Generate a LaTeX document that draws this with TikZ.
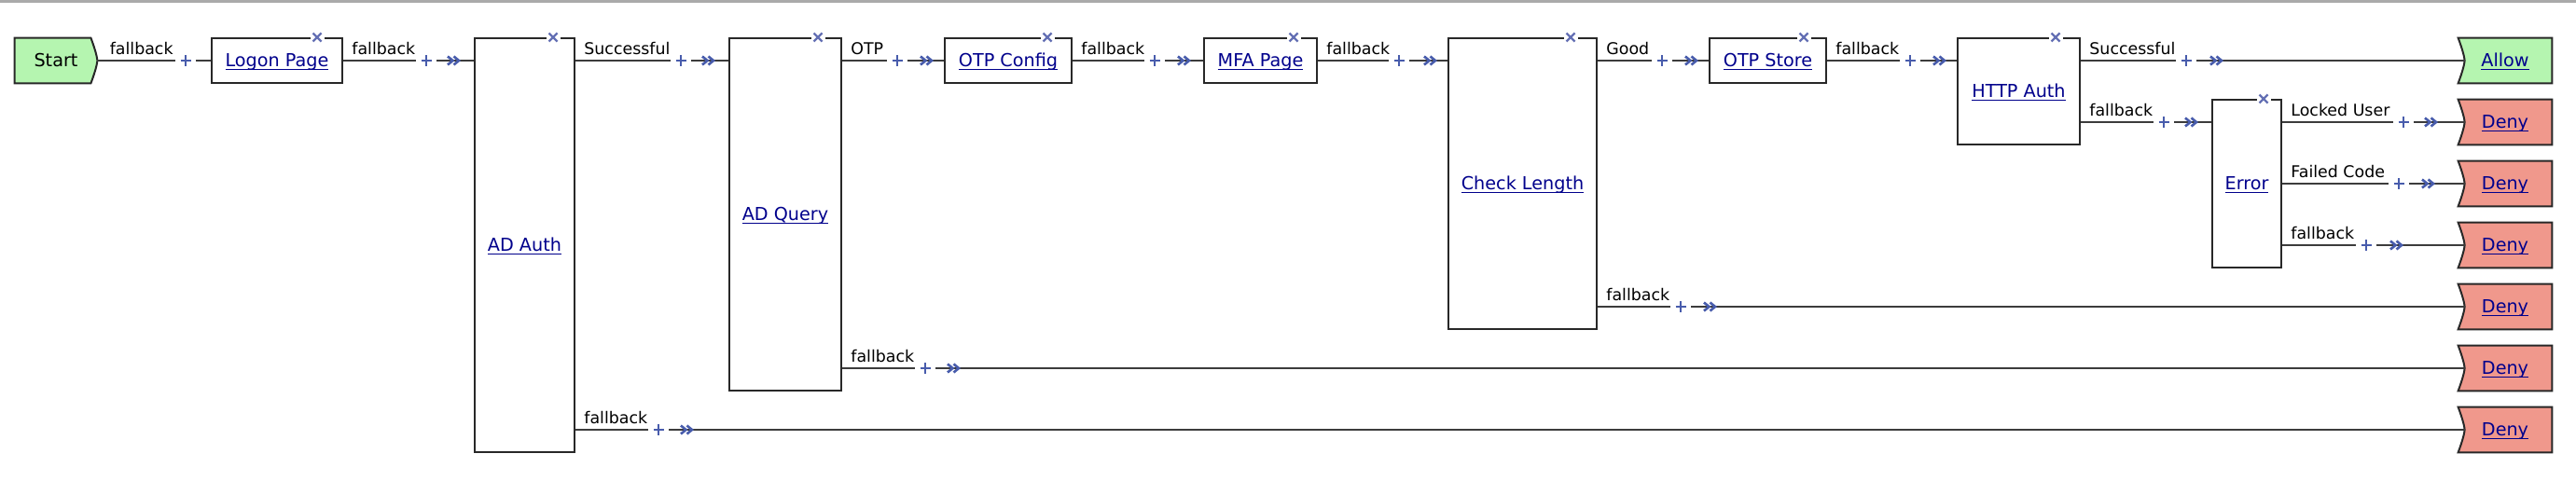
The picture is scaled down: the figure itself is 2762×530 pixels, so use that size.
\documentclass[tikz,border=0pt]{standalone}
\usepackage{fontspec}
\setmainfont{DejaVu Sans}
\usetikzlibrary{calc,backgrounds}
\definecolor{startg}{RGB}{181,245,176}
\definecolor{denyr}{RGB}{240,152,140}
\definecolor{linkc}{RGB}{0,0,140}
\definecolor{markc}{RGB}{72,92,172}
\definecolor{xmarkc}{RGB}{100,112,180}
\definecolor{linec}{RGB}{60,60,60}
\definecolor{boxc}{RGB}{40,40,40}
\definecolor{topbar}{RGB}{170,170,170}
\newcommand\nodefont{\fontsize{9.6}{11}\selectfont}
\newcommand\lblfont{\fontsize{8.7}{10}\selectfont}
\newcommand\lnk[1]{\setbox0\hbox{#1}\rlap{\rule[-1.5pt]{\wd0}{0.7pt}}\box0}
\tikzset{
  box/.style={rectangle, draw=boxc, line width=1pt, fill=white, inner sep=0pt,
    font=\nodefont, text=linkc, text height=6.9pt, text depth=0pt},
  term/.style={rectangle, inner sep=0pt, minimum height=24pt,
    font=\nodefont, text height=6.9pt, text depth=0pt},
  termshape/.style={draw=boxc, line width=1pt},
  conn/.style={draw=linec, line width=1.1pt},
  lbl/.style={anchor=base west, inner sep=0pt, font=\lblfont, text=black},
  mk/.style={draw=markc, line width=1.3pt},
  xm/.style={draw=xmarkc, line width=1.2pt},
  plusmk/.pic={\fill[white] (-11,-2.5) rectangle (11,2.5);
    \draw[mk] (-5.5,0) -- (5.5,0) (0,-6) -- (0,6);},
  chev/.pic={\draw[mk, line join=miter] (0,-4.5) -- (5.5,0) -- (0,4.5) (6.5,-4.5) -- (12,0) -- (6.5,4.5);},
  closex/.pic={\fill[white] (-7.5,-2.5) rectangle (7.5,2.5);
    \draw[xm] (-4.5,-4.5) -- (4.5,4.5) (-4.5,4.5) -- (4.5,-4.5);},
}
\newcommand\flowlink[6]{%
  \draw[conn] (#1) -- (#2);
  \node[lbl] at ($(#1)+(9,-7)$) {#3};
  \pic at (#4,#6) {plusmk};
  \pic at (#5,#6) {chev};
}
\newcommand\startshapeL[1]{%
  \filldraw[termshape, fill=startg] (#1.north west) -- ($(#1.north east)+(-7,0)$)
    .. controls ($(#1.north east)+(-4,8)$) and ($(#1.east)+(-0.5,-6)$) .. (#1.east)
    .. controls ($(#1.east)+(-0.5,6)$) and ($(#1.south east)+(-4,-8)$) .. ($(#1.south east)+(-7,0)$)
    -- (#1.south west) -- cycle;}
\newcommand\termshapeR[2]{%
  \filldraw[termshape, fill=#2] (#1.north west) -- (#1.north east) -- (#1.south east) -- (#1.south west)
    .. controls ($(#1.south west)+(3,-8)$) and ($(#1.west)+(6.5,6)$) .. ($(#1.west)+(7,0)$)
    .. controls ($(#1.west)+(6.5,-6)$) and ($(#1.north west)+(3,8)$) .. (#1.north west) -- cycle;}
\begin{document}
\begin{tikzpicture}[x=0.5pt, y=-0.5pt]
\useasboundingbox (0,0) rectangle (2762,530);
\begin{scope}[on background layer]
  \fill[white] (0,0) rectangle (2762,530);
\end{scope}
\fill[topbar] (0,0) rectangle (2762,2.5);

% rows
\coordinate (r1) at (0,65);
\coordinate (r2) at (0,131);
\coordinate (r3) at (0,197);
\coordinate (r4) at (0,263);
\coordinate (r5) at (0,329);
\coordinate (r6) at (0,395);
\coordinate (r7) at (0,461);

% terminal nodes
\node[term, minimum width=44pt] (start) at (60,65) {Start};
\node[term, minimum width=50pt, text=linkc] (allow) at (2686,65) {\lnk{Allow}};
\node[term, minimum width=50pt, text=linkc] (deny1) at (2686,131) {\lnk{Deny}};
\node[term, minimum width=50pt, text=linkc] (deny2) at (2686,197) {\lnk{Deny}};
\node[term, minimum width=50pt, text=linkc] (deny3) at (2686,263) {\lnk{Deny}};
\node[term, minimum width=50pt, text=linkc] (deny4) at (2686,329) {\lnk{Deny}};
\node[term, minimum width=50pt, text=linkc] (deny5) at (2686,395) {\lnk{Deny}};
\node[term, minimum width=50pt, text=linkc] (deny6) at (2686,461) {\lnk{Deny}};
\begin{scope}[on background layer]
  \startshapeL{start}
  \termshapeR{allow}{startg}
  \termshapeR{deny1}{denyr}
  \termshapeR{deny2}{denyr}
  \termshapeR{deny3}{denyr}
  \termshapeR{deny4}{denyr}
  \termshapeR{deny5}{denyr}
  \termshapeR{deny6}{denyr}
\end{scope}

% action boxes
\node[box, minimum width=70pt, minimum height=24pt] (logon) at (297,65) {\lnk{Logon Page}};
\node[box, minimum width=53.5pt, minimum height=222pt] (adauth) at (562.5,263) {\lnk{AD Auth}};
\node[box, minimum width=60pt, minimum height=189pt] (adquery) at (842,230) {\lnk{AD Query}};
\node[box, minimum width=68pt, minimum height=24pt] (otpcfg) at (1081,65) {\lnk{OTP Config}};
\node[box, minimum width=60.5pt, minimum height=24pt] (mfa) at (1351.5,65) {\lnk{MFA Page}};
\node[box, minimum width=79.5pt, minimum height=156pt] (chklen) at (1632.5,197) {\lnk{Check Length}};
\node[box, minimum width=62.5pt, minimum height=24pt] (otpstore) at (1895.5,65) {\lnk{OTP Store}};
\node[box, minimum width=65.5pt, minimum height=57pt] (http) at (2164.5,98) {\lnk{HTTP Auth}};
\node[box, minimum width=37pt, minimum height=90pt] (error) at (2409,197) {\lnk{Error}};

% close markers
\pic at ($(logon.north east)+(-28,0)$) {closex};
\pic at ($(adauth.north east)+(-24,0)$) {closex};
\pic at ($(adquery.north east)+(-26,0)$) {closex};
\pic at ($(otpcfg.north east)+(-27,0)$) {closex};
\pic at ($(mfa.north east)+(-26,0)$) {closex};
\pic at ($(chklen.north east)+(-29,0)$) {closex};
\pic at ($(otpstore.north east)+(-25,0)$) {closex};
\pic at ($(http.north east)+(-27,0)$) {closex};
\pic at ($(error.north east)+(-20,0)$) {closex};

% ports
\coordinate (i-adauth) at (adauth.west |- r1);
\coordinate (o-adauth1) at (adauth.east |- r1);
\coordinate (o-adauth2) at (adauth.east |- r7);
\coordinate (i-adquery) at (adquery.west |- r1);
\coordinate (o-adquery1) at (adquery.east |- r1);
\coordinate (o-adquery2) at (adquery.east |- r6);
\coordinate (i-chklen) at (chklen.west |- r1);
\coordinate (o-chklen1) at (chklen.east |- r1);
\coordinate (o-chklen2) at (chklen.east |- r5);
\coordinate (i-http) at (http.west |- r1);
\coordinate (o-http1) at (http.east |- r1);
\coordinate (o-http2) at (http.east |- r2);
\coordinate (i-error) at (error.west |- r2);
\coordinate (o-error1) at (error.east |- r2);
\coordinate (o-error2) at (error.east |- r3);
\coordinate (o-error3) at (error.east |- r4);
\coordinate (i-allow) at ($(allow.west)+(7,0)$);
\coordinate (i-deny1) at ($(deny1.west)+(7,0)$);
\coordinate (i-deny2) at ($(deny2.west)+(7,0)$);
\coordinate (i-deny3) at ($(deny3.west)+(7,0)$);
\coordinate (i-deny4) at ($(deny4.west)+(7,0)$);
\coordinate (i-deny5) at ($(deny5.west)+(7,0)$);
\coordinate (i-deny6) at ($(deny6.west)+(7,0)$);

% connectors
\draw[conn] (start.east) -- (logon.west);
\node[lbl] at ($(start.east)+(13,-7)$) {fallback};
\pic at (199,65) {plusmk};

\flowlink{logon.east}{i-adauth}{fallback}{457}{480}{65}
\flowlink{o-adauth1}{i-adquery}{Successful}{730}{753}{65}
\flowlink{o-adquery1}{otpcfg.west}{OTP}{962}{987}{65}
\flowlink{otpcfg.east}{mfa.west}{fallback}{1238}{1263}{65}
\flowlink{mfa.east}{i-chklen}{fallback}{1500}{1527}{65}
\flowlink{o-chklen1}{otpstore.west}{Good}{1782}{1807}{65}
\flowlink{otpstore.east}{i-http}{fallback}{2048}{2073}{65}
\flowlink{o-http1}{i-allow}{Successful}{2344}{2370}{65}
\flowlink{o-http2}{i-error}{fallback}{2320}{2343}{131}
\flowlink{o-error1}{i-deny1}{Locked User}{2577}{2600}{131}
\flowlink{o-error2}{i-deny2}{Failed Code}{2572}{2597}{197}
\flowlink{o-error3}{i-deny3}{fallback}{2537}{2563}{263}
\flowlink{o-chklen2}{i-deny4}{fallback}{1802}{1827}{329}
\flowlink{o-adquery2}{i-deny5}{fallback}{992}{1016}{395}
\flowlink{o-adauth2}{i-deny6}{fallback}{706}{730}{461}
\end{tikzpicture}
\end{document}
